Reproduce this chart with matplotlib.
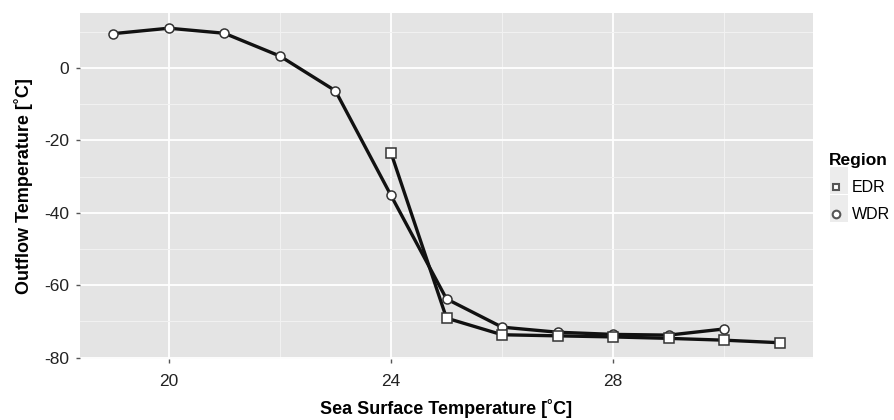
import numpy as np
import matplotlib
matplotlib.use("Agg")
import matplotlib.pyplot as plt
from matplotlib.lines import Line2D
from matplotlib.patches import Rectangle

plt.rcParams["font.family"] = ["Liberation Sans", "DejaVu Sans"]
plt.rcParams["axes.unicode_minus"] = False

''' Data '''
wdr_sst = [19, 20, 21, 22, 23, 24, 25, 26, 27, 28, 29, 30]
wdr_outflow = [9.5, 11.0, 9.6, 3.3, -6.3, -35.2, -63.8, -71.6, -73.0, -73.6, -73.8, -72.1]

edr_sst = [24, 25, 26, 27, 28, 29, 30, 31]
edr_outflow = [-23.4, -69.1, -73.7, -74.0, -74.3, -74.7, -75.2, -75.9]

x_ticks = [20, 24, 28]
y_ticks = [0, -20, -40, -60, -80]

''' Plot '''
fig = plt.figure(figsize=(8.94, 4.2), dpi=100)
ax = fig.add_axes([80 / 894, 61 / 420, 733 / 894, 346 / 420])
ax.set_facecolor("#e4e4e4")

ax.set_xlim(18.4, 31.6)
ax.set_ylim(-80.4, 15.2)
ax.set_xticks(x_ticks)
ax.set_yticks(y_ticks)
ax.set_xticks([22, 26, 30], minor=True)
ax.set_yticks([10, -10, -30, -50, -70], minor=True)
ax.grid(True, which="major", color="white", linewidth=1.3)
ax.grid(True, which="minor", color="#f2f2f2", linewidth=0.7)
ax.set_axisbelow(True)
for s in ax.spines.values():
    s.set_visible(False)
ax.tick_params(which="major", length=3, width=1, color="#555555",
               labelsize=12.5, labelcolor="#222222")
ax.tick_params(axis="x", pad=8)
ax.tick_params(axis="y", pad=5)
ax.tick_params(which="minor", length=0)

line_kw = dict(color="#111111", linewidth=2.4, markersize=6.5,
               markerfacecolor="white", markeredgecolor="#333333", markeredgewidth=1.1)
ax.plot(wdr_sst, wdr_outflow, marker="o", **line_kw)
ax.plot(edr_sst, edr_outflow, marker="s", **line_kw)

ax.set_xlabel("Sea Surface Temperature [˚C]", fontsize=13, fontweight="bold", labelpad=7)
ax.set_ylabel("Outflow Temperature [˚C]", fontsize=13, fontweight="bold", labelpad=8)

''' Legend '''
for yk in [167, 195]:
    fig.patches.append(Rectangle((830 / 894, (420 - yk - 27) / 420), 18 / 894, 27 / 420,
                                 transform=fig.transFigure, facecolor="#ececec",
                                 edgecolor="none", zorder=0))
handles = [
    Line2D([], [], linestyle="none", marker="s", markersize=5, markerfacecolor="white",
           markeredgecolor="#555555", markeredgewidth=1.5, label="EDR"),
    Line2D([], [], linestyle="none", marker="o", markersize=5.5, markerfacecolor="white",
           markeredgecolor="#555555", markeredgewidth=1.5, label="WDR"),
]
leg = fig.legend(handles=handles, title="Region", loc="upper left",
                 bbox_to_anchor=(814 / 894, 1 - 139 / 420), frameon=False,
                 fontsize=11.5, title_fontsize=12.5, handlelength=1.0,
                 handletextpad=0.45, labelspacing=0.75, alignment="left")
leg.get_title().set_fontweight("bold")

fig.savefig("out.png", dpi=100)
